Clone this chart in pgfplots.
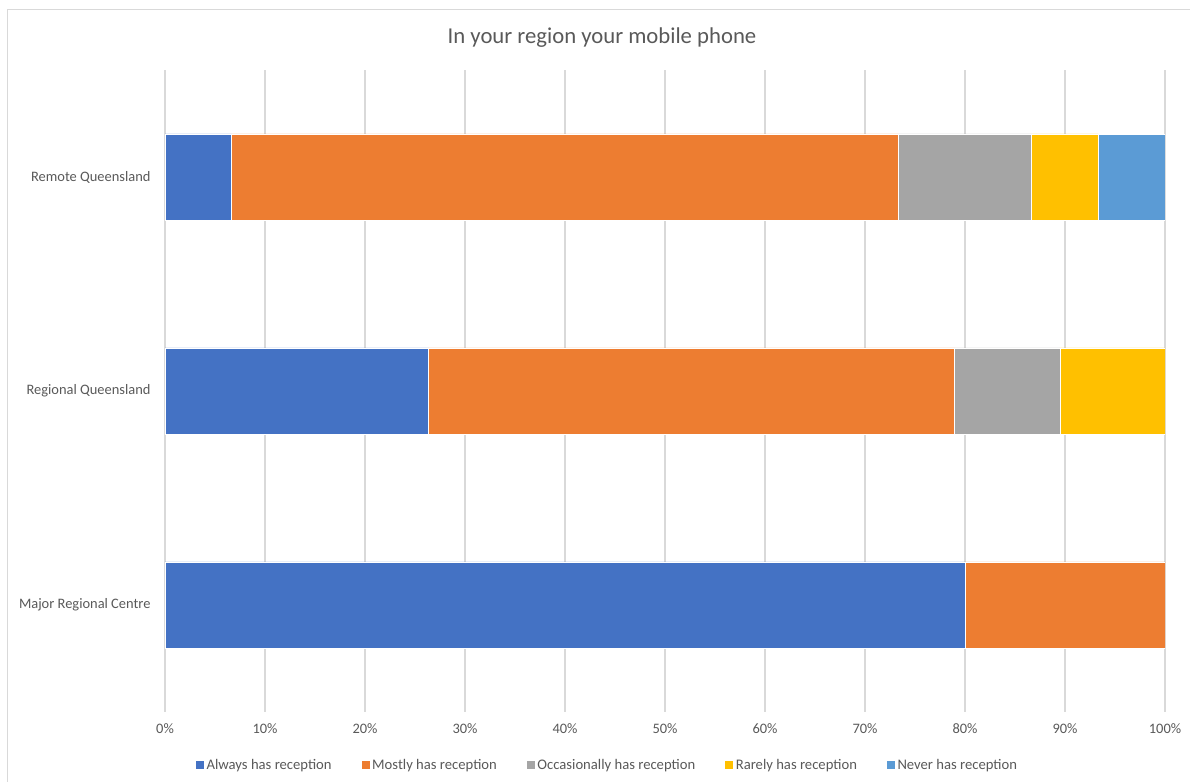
\documentclass[border=0pt]{standalone}
\usepackage{pgfplots}
\pgfplotsset{compat=1.18}
\usepackage{fontspec}
\setmainfont{Carlito}
\definecolor{cAlways}{HTML}{4472C4}
\definecolor{cMostly}{HTML}{ED7D31}
\definecolor{cOcc}{HTML}{A5A5A5}
\definecolor{cRare}{HTML}{FFC000}
\definecolor{cNever}{HTML}{5B9BD5}
\definecolor{txt}{HTML}{595959}
\definecolor{gridc}{HTML}{D9D9D9}
\begin{document}
\begin{tikzpicture}[x=1bp,y=1bp]
\draw[gridc, line width=1bp] (7,-20) -- (7,772) -- (1200,772);
\node[text=txt, font=\fontsize{22.8}{26}\selectfont, anchor=center] at (602,744) {In your region your mobile phone};
\begin{axis}[
  at={(165bp,70bp)}, anchor=south west,
  scale only axis, width=1000bp, height=642bp,
  xbar stacked, bar width=86bp,
  xmin=0, xmax=100, ymin=-0.5, ymax=2.5,
  xtick={0,10,...,100},
  xticklabel={\pgfmathprintnumber{\tick}\%},
  ytick={0,1,2},
  yticklabels={Major Regional Centre, Regional Queensland, Remote Queensland},
  /pgf/number format/assume math mode=true,
  tick label style={text=txt, font=\fontsize{14.5}{16}\selectfont},
  xticklabel style={yshift=-8bp},
  yticklabel style={xshift=-11bp},
  major tick length=0pt,
  axis line style={draw=none},
  xmajorgrids, grid style={draw=gridc, line width=1.2bp},
  legend columns=5,
  legend style={at={(0.442,-0.0826)}, anchor=center, draw=none, fill=none,
    font=\fontsize{14.7}{16}\selectfont, text=txt,
    /tikz/every even column/.append style={column sep=27bp},
    /tikz/every odd column/.append style={column sep=0bp},
    inner sep=0pt},
  legend image code/.code={\fill[#1] (0bp,-4.5bp) rectangle (9bp,4.5bp);},
  every axis plot/.append style={draw=white, line width=0.6bp},
]
\addplot[fill=cAlways] coordinates {(80,0) (26.32,1) (6.67,2)};
\addplot[fill=cMostly] coordinates {(20,0) (52.63,1) (66.67,2)};
\addplot[fill=cOcc] coordinates {(0,0) (10.53,1) (13.33,2)};
\addplot[fill=cRare] coordinates {(0,0) (10.53,1) (6.67,2)};
\addplot[fill=cNever] coordinates {(0,0) (0,1) (6.67,2)};
\legend{Always has reception, Mostly has reception, Occasionally has reception, Rarely has reception, Never has reception}
\end{axis}
\pgfresetboundingbox
\useasboundingbox (0,0) rectangle (1190,782);
\end{tikzpicture}
\end{document}
